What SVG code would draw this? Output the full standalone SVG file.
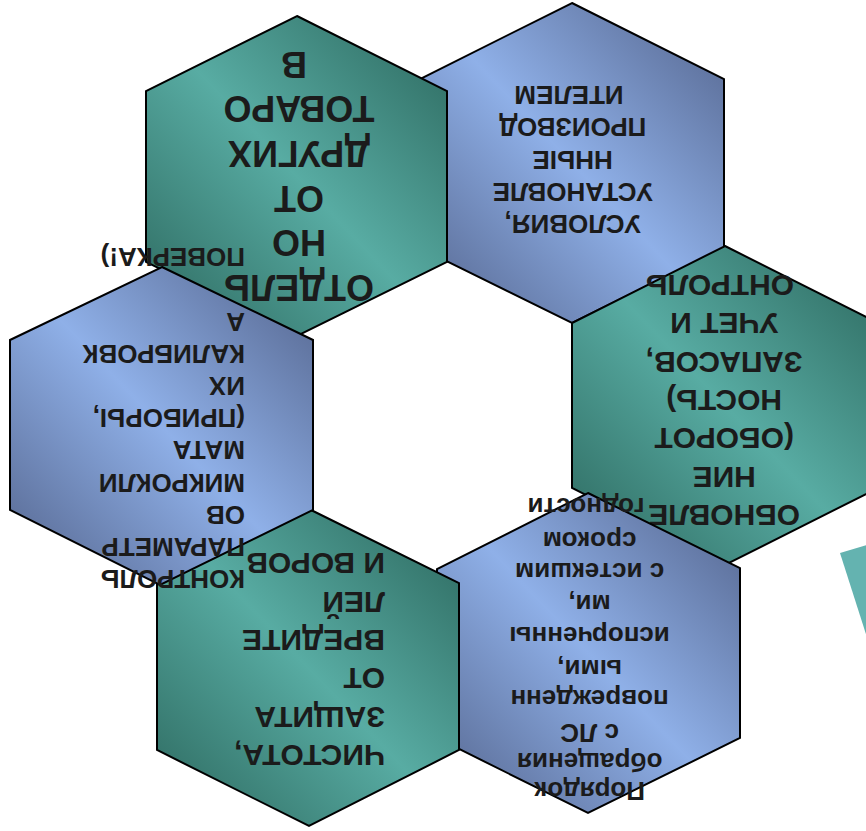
<svg xmlns="http://www.w3.org/2000/svg" width="866" height="831" viewBox="0 0 866 831">
<defs>
<linearGradient id="gTeal" x1="1" y1="0" x2="0" y2="1">
<stop offset="0" stop-color="#2b665c"/>
<stop offset="0.5" stop-color="#58aca3"/>
<stop offset="1" stop-color="#2b665c"/>
</linearGradient>
<linearGradient id="gBlue" x1="1" y1="0" x2="0" y2="1">
<stop offset="0" stop-color="#52628a"/>
<stop offset="0.5" stop-color="#8fb0e8"/>
<stop offset="1" stop-color="#52628a"/>
</linearGradient>
<style>
.teal{fill:url(#gTeal);stroke:#000;stroke-width:2;stroke-linejoin:miter}
.blue{fill:url(#gBlue);stroke:#000;stroke-width:2;stroke-linejoin:miter}
text{font-family:"Liberation Sans",Arial,sans-serif;font-weight:bold;fill:#1b1b1b}
.c{text-anchor:middle}
.s{text-anchor:start}
.f36{font-size:36px}
.f30{font-size:30px}
.f26{font-size:26px}
</style>
</defs>
<rect width="866" height="831" fill="#ffffff"/>
<polygon id="deco" points="840,553 870,544 871,650" fill="#64b3b0"/>
<g id="connectors"/>
<g id="node-2">
<polygon class="blue" points="572,3 724,79 724,248 572,323 420,248 420,79"/>
<text class="f26 c" transform="rotate(180 572 163)">
<tspan x="575" y="111">УСЛОВИЯ,</tspan>
<tspan x="575" y="143.3">УСТАНОВЛЕ</tspan>
<tspan x="575" y="175.5">ННЫЕ</tspan>
<tspan x="575" y="207.8">ПРОИЗВОД</tspan>
<tspan x="575" y="240">ИТЕЛЕМ</tspan>
</text>
</g>
<g id="node-1">
<polygon class="teal" points="297,16 447,91 447,262 297,336 146,262 146,91"/>
<text class="f36 c" transform="rotate(180 297 176)">
<tspan x="300" y="77">ОТДЕЛЬ</tspan>
<tspan x="300" y="121.7">НО</tspan>
<tspan x="300" y="166.3">ОТ</tspan>
<tspan x="300" y="211">ДРУГИХ</tspan>
<tspan x="300" y="255.6">ТОВАРО</tspan>
<tspan x="300" y="300.3">В</tspan>
</text>
</g>
<g id="node-3">
<polygon class="teal" points="725,246 878,323 878,488 725,565 572,488 572,323"/>
<text class="f30 c" transform="rotate(180 725 406)">
<tspan x="730" y="307">ОБНОВЛЕ</tspan>
<tspan x="730" y="345.3">НИЕ</tspan>
<tspan x="730" y="383.7">(ОБОРОТ</tspan>
<tspan x="730" y="422">НОСТЬ)</tspan>
<tspan x="730" y="460.3">ЗАПАСОВ,</tspan>
<tspan x="730" y="498.7">УЧЕТ И</tspan>
<tspan x="730" y="537">ОНТРОЛЬ</tspan>
</text>
</g>
<g id="node-6">
<polygon class="blue" points="588,493 740,568 740,738 588,813 437,738 437,569"/>
<text class="f26 c" transform="rotate(180 588 653)">
<tspan x="590" y="524.3">Порядок</tspan>
<tspan x="590" y="553.5">обращения</tspan>
<tspan x="590" y="582.5">с ЛС</tspan>
<tspan x="590" y="616">поврежденн</tspan>
<tspan x="590" y="646.5">ыми,</tspan>
<tspan x="590" y="679.3">испорченны</tspan>
<tspan x="590" y="711">ми,</tspan>
<tspan x="590" y="742.7">с истекшим</tspan>
<tspan x="590" y="774.3">сроком</tspan>
<tspan x="590" y="807.7">годности</tspan>
</text>
</g>
<g id="node-5">
<polygon class="teal" points="309,509 459,583 459,750 309,826 157,750 157,583"/>
<text class="f30 s" transform="rotate(180 308 667)">
<tspan x="231" y="589">ЧИСТОТА,</tspan>
<tspan x="231" y="627.3">ЗАЩИТА</tspan>
<tspan x="231" y="665.7">ОТ</tspan>
<tspan x="231" y="704">ВРЕДИТЕ</tspan>
<tspan x="231" y="742.3">ЛЕЙ</tspan>
<tspan x="231" y="780.7">И ВОРОВ</tspan>
</text>
</g>
<g id="node-4">
<polygon class="blue" points="162,267 313,340 313,510 160,585 10,510 10,340"/>
<text class="f26 s" transform="rotate(180 162 427)">
<tspan x="79" y="284">КОНТРОЛЬ</tspan>
<tspan x="79" y="316.2">ПАРАМЕТР</tspan>
<tspan x="79" y="348.3">ОВ</tspan>
<tspan x="79" y="380.5">МИКРОКЛИ</tspan>
<tspan x="79" y="412.7">МАТА</tspan>
<tspan x="79" y="444.8">(ПРИБОРЫ,</tspan>
<tspan x="79" y="477">ИХ</tspan>
<tspan x="79" y="509.2">КАЛИБРОВК</tspan>
<tspan x="79" y="541.4">А</tspan>
<tspan x="79" y="605.7">ПОВЕРКА!)</tspan>
</text>
</g>
</svg>
